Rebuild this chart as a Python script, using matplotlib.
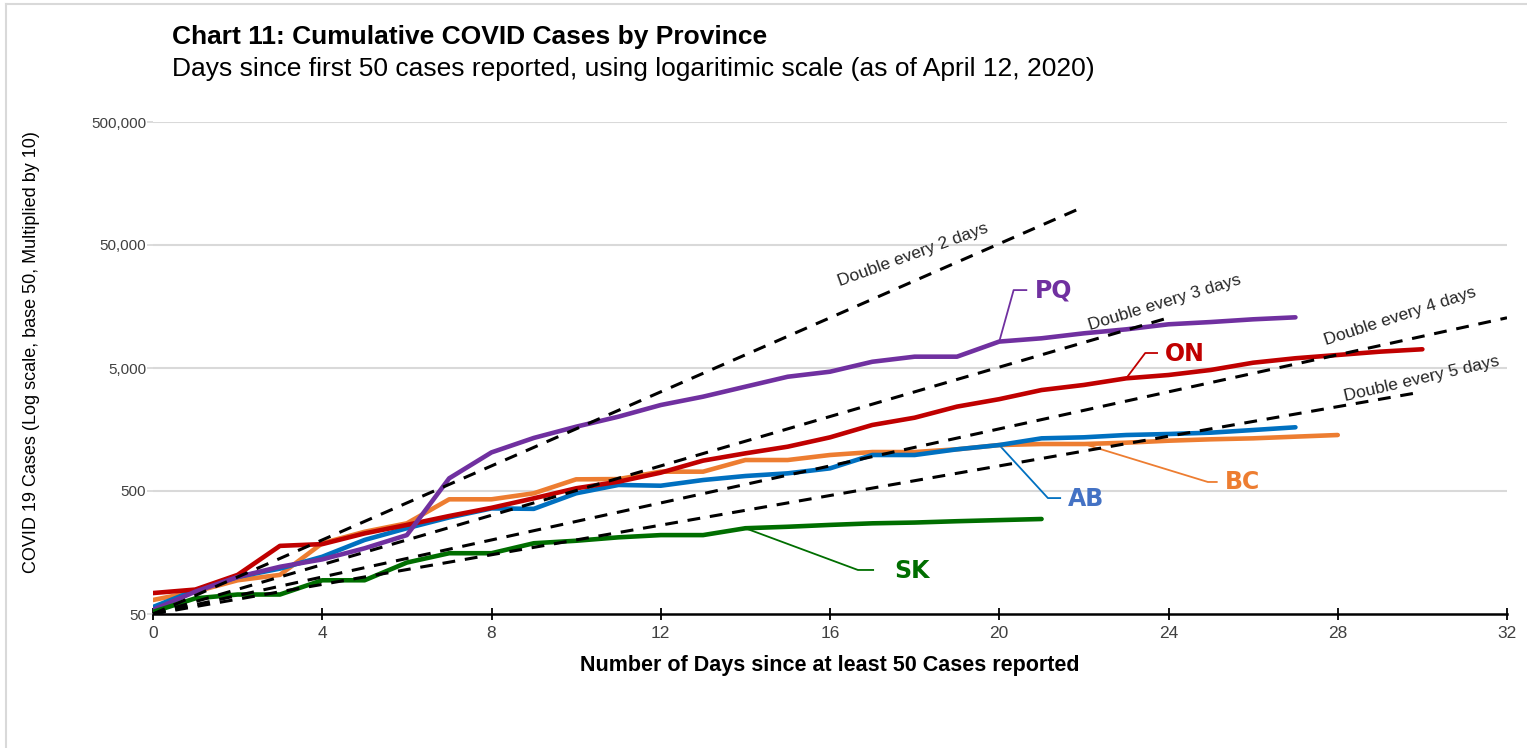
import numpy as np
import matplotlib
matplotlib.use("Agg")
import matplotlib.pyplot as plt
from matplotlib.lines import Line2D
from matplotlib.ticker import FixedLocator, FuncFormatter, NullLocator

plt.rcParams['font.family'] = ['Liberation Sans', 'DejaVu Sans']

# Cumulative cases, one value per day since the 50th case
pq_cases = [54, 76, 100, 121, 139, 171, 219, 634, 1030, 1350, 1666, 2010, 2500, 2923,
            3524, 4245, 4665, 5620, 6180, 6180, 8200, 8720, 9570, 10310, 11330, 11820,
            12440, 12910]
on_cases = [74, 79, 104, 179, 185, 226, 265, 313, 365, 436, 526, 595, 705, 883, 1012,
            1146, 1365, 1721, 1972, 2426, 2790, 3310, 3640, 4120, 4385, 4820, 5520,
            6000, 6380, 6790, 7100]
ab_cases = [57, 78, 100, 117, 146, 200, 249, 305, 361, 358, 479, 560, 552, 614, 662,
            696, 764, 981, 981, 1091, 1182, 1340, 1366, 1426, 1453, 1490, 1566, 1648]
bc_cases = [65, 76, 94, 104, 188, 233, 273, 428, 428, 479, 622, 625, 718, 718, 893, 893,
            981, 1037, 1037, 1091, 1182, 1205, 1205, 1235, 1282, 1316, 1340, 1383, 1426]
sk_cases = [52, 67, 72, 72, 94, 94, 131, 156, 156, 188, 197, 210, 219, 219, 249, 256,
            265, 273, 277, 284, 290, 296]

# Doubling reference lines
base_cases = 50
doubling_periods = [2, 3, 4, 5]
doubling_last_day = [22, 24, 32, 30]

y_ticks = [50, 500, 5000, 50000, 500000]
x_ticks = [0, 4, 8, 12, 16, 20, 24, 28, 32]

colors = {
    'PQ': '#7030A0',
    'ON': '#C00000',
    'AB': '#0070C0',
    'BC': '#ED7D31',
    'SK': '#006E00',
}
label_colors = {
    'PQ': '#7030A0',
    'ON': '#C00000',
    'AB': '#4472C4',
    'BC': '#ED7D31',
    'SK': '#006E00',
}

fig = plt.figure(figsize=(15.27, 7.48), dpi=100)
ax = fig.add_axes([153 / 1527, 1 - 614 / 748, (1507 - 153) / 1527, (614 - 122) / 748])

series = [('BC', bc_cases), ('AB', ab_cases), ('ON', on_cases), ('PQ', pq_cases),
          ('SK', sk_cases)]
for name, vals in series:
    ax.plot(np.arange(len(vals)), vals, color=colors[name], lw=3.3,
            solid_capstyle='round', solid_joinstyle='round', zorder=3)

for period, last in zip(doubling_periods, doubling_last_day):
    d = np.arange(last + 1)
    ax.plot(d, base_cases * 2.0 ** (d / period), color='black', lw=2.2,
            dashes=(4.2, 3.2), zorder=4)

ax.set_yscale('log')
ax.set_xlim(0, 32)
ax.set_ylim(50, 500000)
ax.yaxis.set_major_locator(FixedLocator(y_ticks))
ax.yaxis.set_minor_locator(NullLocator())
ax.yaxis.set_major_formatter(FuncFormatter(lambda v, p: f"{int(round(v)):,}"))
ax.set_xticks(x_ticks)

for v in y_ticks[1:]:
    ax.axhline(v, color='#D9D9D9', lw=1.5, zorder=1)

for s in ['left', 'right', 'top']:
    ax.spines[s].set_visible(False)
ax.spines['bottom'].set_linewidth(1.8)
ax.spines['bottom'].set_zorder(5)

ax.tick_params(axis='x', direction='inout', length=9, width=1.3, labelsize=12.5,
               labelcolor='#404040', pad=4)
ax.tick_params(axis='y', length=4, width=1.3, color='#D9D9D9', labelsize=11,
               labelcolor='#404040', pad=1)

ax.set_xlabel('Number of Days since at least 50 Cases reported', fontsize=15.5,
              fontweight='bold', color='black', labelpad=10)
fig.text(32 / 1527, 1 - 352 / 748,
         'COVID 19 Cases (Log scale, base 50, Multiplied by 10)',
         rotation=90, ha='center', va='center', fontsize=13, color='black')

fig.text(172 / 1527, 1 - 44 / 748, 'Chart 11: Cumulative COVID Cases by Province',
         fontsize=19, fontweight='bold', va='baseline')
fig.text(172 / 1527, 1 - 76 / 748,
         'Days since first 50 cases reported, using logaritimic scale (as of April 12, 2020)',
         fontsize=19, va='baseline')

# doubling-line captions
captions = [
    ('Double every 2 days', 17.96, 41500, 20),
    ('Double every 3 days', 23.92, 16870, 17),
    ('Double every 4 days', 29.47, 13240, 18),
    ('Double every 5 days', 29.99, 4070, 13),
]
for txt, cx, cy, rot in captions:
    ax.text(cx, cy, txt, rotation=rot, ha='center', va='center', fontsize=12.5,
            color='#262626', zorder=6, rotation_mode='anchor')

# province labels with leader lines: (series, day, elbow x, elbow y, end x, text x, text y)
leaders = [
    ('PQ', pq_cases, 20, 20.34, 21500, 20.64, 20.85, 21500),
    ('ON', on_cases, 23, 23.45, 6620, 23.73, 23.92, 6500),
    ('AB', ab_cases, 20, 21.15, 438, 21.44, 21.63, 430),
    ('BC', bc_cases, 22, 24.93, 592, 25.14, 25.34, 592),
    ('SK', sk_cases, 14, 16.66, 114, 17.02, 17.51, 112),
]
for name, vals, day, ex, ey, hx, tx, ty in leaders:
    ax.plot([day, ex, hx], [vals[day], ey, ey], color=colors[name], lw=1.3, zorder=2)
    ax.text(tx, ty, name, color=label_colors[name], fontsize=17, fontweight='bold',
            family='DejaVu Sans', ha='left', va='center', zorder=6)

# light outer frame
fig.add_artist(Line2D([6 / 1527, 6 / 1527], [0, 1 - 4 / 748], color='#D9D9D9', lw=1.5))
fig.add_artist(Line2D([6 / 1527, 1], [1 - 4 / 748, 1 - 4 / 748], color='#D9D9D9', lw=1.5))

fig.savefig('out.png', dpi=100)
